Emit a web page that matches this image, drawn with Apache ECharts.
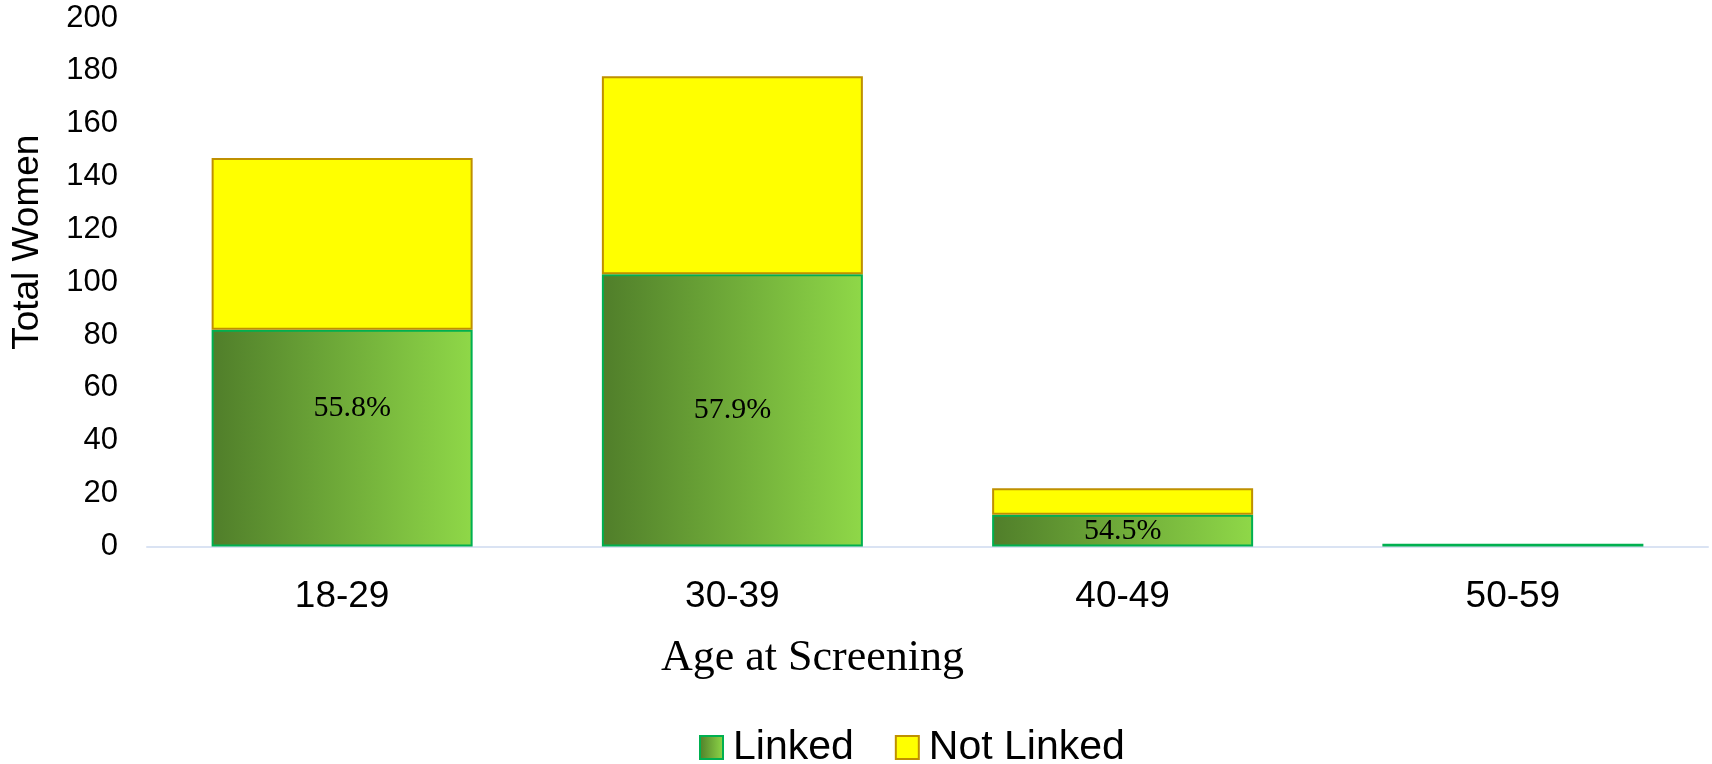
<!DOCTYPE html>
<html>
<head>
<meta charset="utf-8">
<script src="https://cdn.jsdelivr.net/npm/echarts@6/dist/echarts.min.js"></script>
<style>
html,body{margin:0;padding:0;background:#fff;}
#chart{width:1712px;height:764px;}
</style>
</head>
<body>
<div id="chart"></div>
<script>
const categories = ['18-29', '30-39', '40-49', '50-59'];
const linked = [82, 103, 12, 1];
const notLinked = [65, 75, 10, 0];
const linkedPct = ['55.8%', '57.9%', '54.5%', ''];
const yTicks = [0, 20, 40, 60, 80, 100, 120, 140, 160, 180, 200];

const SANS = '"Liberation Sans", Arial, sans-serif';
const SERIF = '"Liberation Serif", "Times New Roman", serif';

const chart = echarts.init(document.getElementById('chart'));
const greenGrad = new echarts.graphic.LinearGradient(0, 0, 1, 0, [
  { offset: 0, color: '#507E2A' },
  { offset: 1, color: '#8FD848' }
]);

chart.setOption({
  animation: false,
  backgroundColor: '#ffffff',
  grid: { left: 147, right: 4, top: 18, bottom: 217.5, containLabel: false },
  legend: {
    data: ['Linked', 'Not Linked'],
    left: 699,
    top: 727,
    padding: 0,
    icon: 'rect',
    itemWidth: 23,
    itemHeight: 23,
    itemGap: 41,
    textStyle: { fontFamily: SANS, fontSize: 41, color: '#000', padding: [0, 0, 0, 5] }
  },
  xAxis: {
    type: 'category',
    data: categories,
    name: 'Age at Screening',
    nameLocation: 'middle',
    nameGap: 90,
    nameTextStyle: { fontFamily: SERIF, fontSize: 44, color: '#000', padding: [0, 230, 0, 0] },
    axisLine: { show: true, lineStyle: { color: '#DAE3F3', width: 2 } },
    axisTick: { show: false },
    axisLabel: { fontFamily: SANS, fontSize: 37, color: '#000', margin: 32 }
  },
  yAxis: {
    type: 'value',
    min: yTicks[0],
    max: yTicks[yTicks.length - 1],
    interval: yTicks[1] - yTicks[0],
    name: 'Total Women',
    nameLocation: 'middle',
    nameGap: 101,
    nameTextStyle: { fontFamily: SANS, fontSize: 37, color: '#000', padding: [0, 0, 0, 80] },
    axisLine: { show: false },
    axisTick: { show: false },
    splitLine: { show: false },
    axisLabel: { fontFamily: SANS, fontSize: 31, color: '#000', margin: 29 }
  },
  series: [
    {
      name: 'Linked',
      type: 'bar',
      stack: 'total',
      barWidth: 261,
      data: linked.map((v, i) => ({
        value: v,
        label: i === 0 ? { offset: [10, -30] } : {}
      })),
      itemStyle: { color: greenGrad, borderColor: '#00B050', borderWidth: 2 },
      label: {
        show: true,
        position: 'inside',
        fontFamily: SERIF,
        fontSize: 30,
        color: '#000',
        formatter: p => linkedPct[p.dataIndex]
      }
    },
    {
      name: 'Not Linked',
      type: 'bar',
      stack: 'total',
      barWidth: 261,
      data: notLinked.map(v => (v === 0 ? '-' : v)),
      itemStyle: { color: '#FFFF00', borderColor: '#BF9000', borderWidth: 2 }
    }
  ]
});
</script>
</body>
</html>
